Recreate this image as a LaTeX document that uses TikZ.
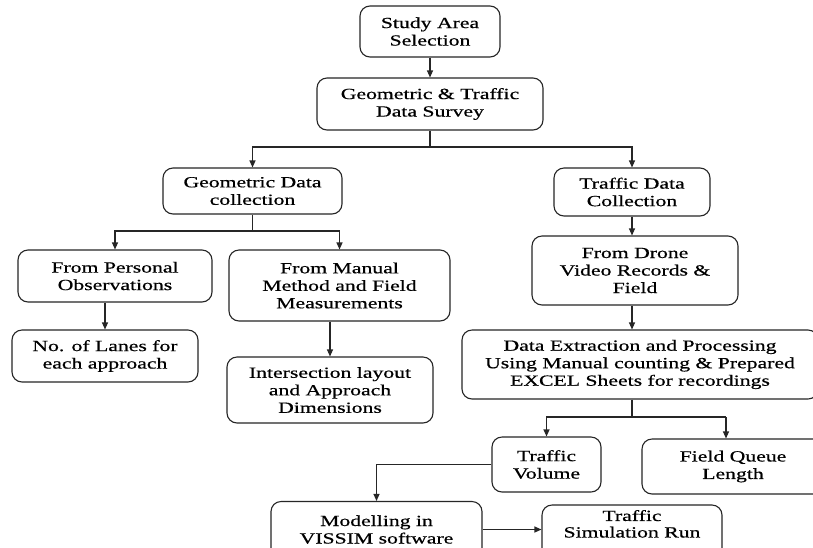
\documentclass[tikz,border=0pt]{standalone}
\usepackage{fontspec}
\setmainfont{Liberation Serif}[FakeStretch=1.4,FakeBold=0.6]
\usetikzlibrary{arrows.meta,calc}
\begin{document}
\begin{tikzpicture}[x=1pt,y=-1pt,
  box/.style={draw=black!85, line width=1.1pt, rounded corners=10pt, align=center,
    font=\fontsize{15.5}{17.5}\selectfont, inner sep=2pt, fill=white},
  conn/.style={line width=1.1pt, draw=black!85},
  arr/.style={conn, -{Triangle[length=7pt,width=6pt]}}]
\useasboundingbox (0,0) rectangle (813,547);
\clip (0,0) rectangle (813,547);
\fill[white] (0,0) rectangle (813,547);

\node[box, minimum width=140pt, minimum height=51pt] (s1) at (430,31.5) {Study Area\\Selection};
\node[box, minimum width=226pt, minimum height=52pt] (s2) at (430,104) {Geometric \& Traffic\\Data Survey};
\node[box, minimum width=179pt, minimum height=46pt] (s3) at (252.5,191) {Geometric Data\\collection};
\node[box, minimum width=156pt, minimum height=48pt] (s4) at (632,192) {Traffic Data\\Collection};
\node[box, minimum width=194pt, minimum height=52pt] (s5) at (115,276) {From Personal\\Observations};
\node[box, minimum width=221pt, minimum height=71pt] (s6) at (339.5,285.5) {From Manual\\Method and Field\\Measurements};
\node[box, minimum width=186pt, minimum height=52pt] (s7) at (105,356) {No. of Lanes for\\each approach};
\node[box, minimum width=206pt, minimum height=66pt] (s8) at (330,390) {Intersection layout\\and Approach\\Dimensions};
\node[box, minimum width=206pt, minimum height=69pt] (s9) at (635,270.5) {From Drone\\Video Records \&\\Field};
\node[box, minimum width=356pt, minimum height=69pt] (s10) at (640,364.5) {Data Extraction and Processing\\Using Manual counting \& Prepared\\EXCEL Sheets for recordings};
\node[box, minimum width=109pt, minimum height=55pt] (s11) at (546.5,464.5) {Traffic\\Volume};
\node[box, minimum width=182pt, minimum height=55pt] (s12) at (733,466.5) {Field Queue\\Length};
\node[box, minimum width=211pt, minimum height=56pt] (s13) at (376.5,529.5) {Modelling in\\VISSIM software};
\node[box, minimum width=180pt, minimum height=60pt, font=\fontsize{15.5}{16.5}\selectfont] (s14) at (632,535) {Traffic\\Simulation Run\\[6pt]};

\coordinate (j1) at (430,147);
\coordinate (j2) at (252.5,231);
\coordinate (j3) at (632,417);
\coordinate (j4) at (726,417);

\draw[arr] (s1) -- (s2);
\draw[conn] (s2) -- (j1);
\draw[arr] (j1) -| (s3);
\draw[arr] (j1) -| (s4);
\draw[conn] (s3) -- (j2);
\draw[arr] (j2) -| (s5);
\draw[arr] (j2) -| (s6);
\draw[arr] (s7.north |- s5.south) -- (s7.north);
\draw[arr] (s8.north |- s6.south) -- (s8.north);
\draw[arr] (s4) -- (s4 |- s9.north);
\draw[arr] (s4 |- s9.south) -- (s4 |- s10.north);
\draw[conn] (s4 |- s10.south) -- (j3);
\draw[arr] (j3) -| (s11);
\draw[conn] (j3) -- (j4);
\draw[arr] (j4) -- (j4 |- s12.north);
\draw[arr] (s11.west) -| (s13);
\draw[arr] (s13.east) -- (s13.east -| s14.west);
\end{tikzpicture}
\end{document}
